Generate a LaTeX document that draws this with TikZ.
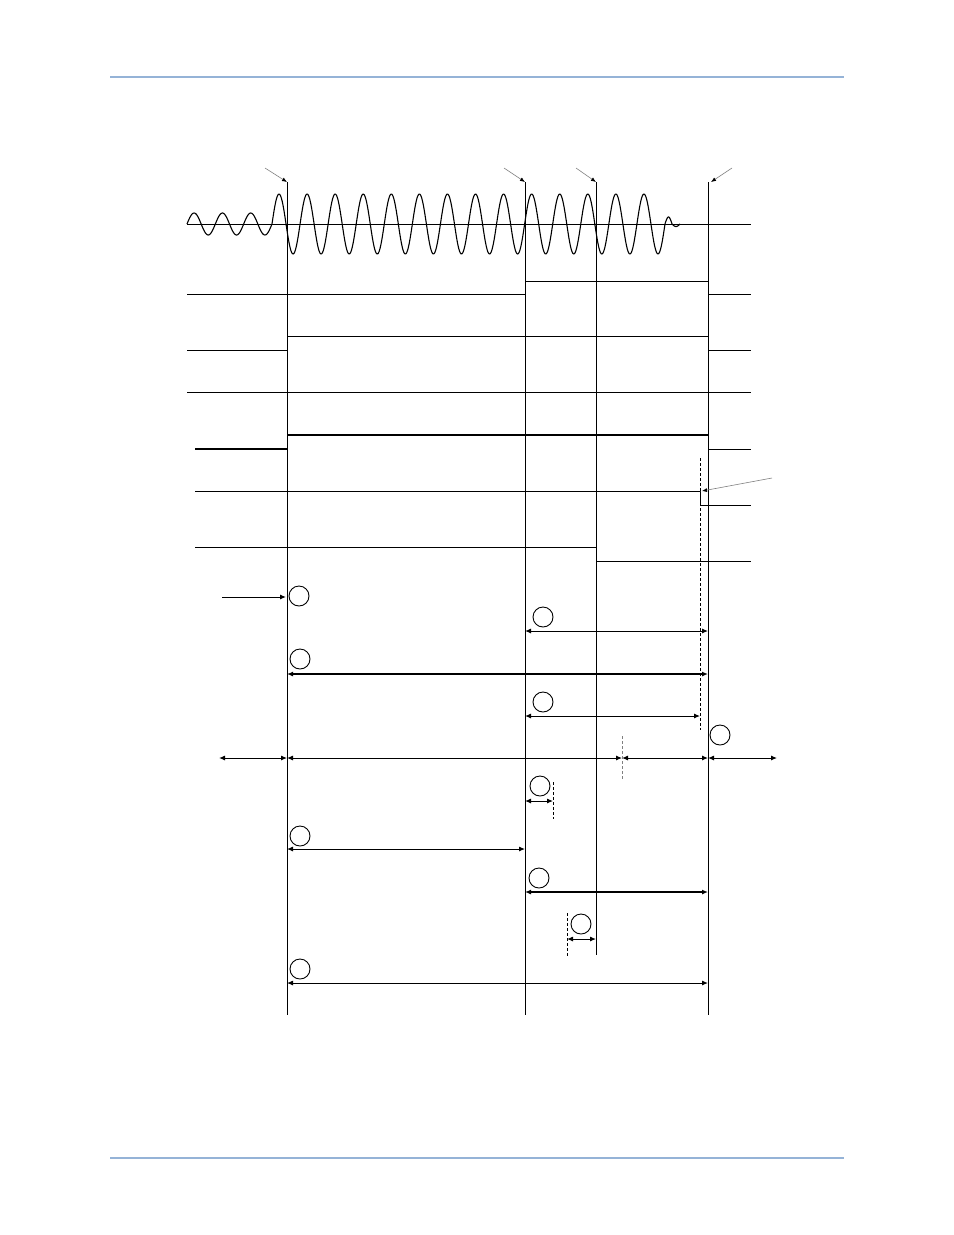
\documentclass[tikz,border=0pt]{standalone}
\usetikzlibrary{arrows.meta}
\definecolor{rulecol}{rgb}{0.584,0.702,0.843}
\tikzset{
  sig/.style={line width=1bp},
  heavy/.style={line width=2.2bp},
  span/.style={<->,line width=1bp},
  tick/.style={dashed,dash pattern=on 3bp off 2bp,line width=0.7bp},
  greytick/.style={tick,gray},
  pointer/.style={->,gray,line width=0.6bp,>={Latex[length=5bp,width=4bp,black]}},
  ring/.style={draw,circle,minimum size=20bp,inner sep=0pt,line width=0.9bp},
}
\begin{document}
\begin{tikzpicture}[x=1bp,y=-1bp,>={Latex[length=6bp,width=5bp]},line join=bevel]
\useasboundingbox (0,0) rectangle (954,1235);
%% page rules
\draw[rulecol,line width=2bp] (110,77) -- (844,77);
\draw[rulecol,line width=2bp] (110,1158) -- (844,1158);
%% time lines
\coordinate (t0) at (287,182);
\coordinate (t1) at (525,182);
\coordinate (t2) at (596,182);
\coordinate (t3) at (708,182);
\coordinate (t0b) at (287,1015);
\coordinate (t1b) at (525,1015);
\coordinate (t2b) at (596,955);
\coordinate (t3b) at (708,1015);
\draw[sig] (t0) -- (t0b);
\draw[sig] (t1) -- (t1b);
\draw[sig] (t2) -- (t2b);
\draw[sig] (t3) -- (t3b);
%% markers above the lines
\draw[pointer] (265,168) -- (t0);
\draw[pointer] (504,168) -- (t1);
\draw[pointer] (576,168) -- (t2);
\draw[pointer] (732,168) -- ([xshift=3bp]t3);
%% waveform
\draw[sig] (187,224) -- (751,224);
\draw[line width=1.1bp] plot[domain=187:272,samples=120,smooth] (\x,{224-11*sin(12.7059*(\x-187))})
  -- plot[domain=272:665,samples=500,smooth] (\x,{224-30*sin(12.8244*(\x-272))})
  -- plot[domain=665:672,samples=20,smooth] (\x,{224-7*sin(25.7143*(\x-665))})
  -- plot[domain=672:680,samples=20,smooth] (\x,{224+2.5*sin(22.5*(\x-672))});
%% levels
\draw[sig] (187,294) -- (t1 |- 0,294);
\draw[sig] (t1 |- 0,281) -- (t3 |- 0,281);
\draw[sig] (t3 |- 0,294) -- (751,294);
\draw[sig] (t0 |- 0,336) -- (t3 |- 0,336);
\draw[sig] (187,350) -- (t0 |- 0,350);
\draw[sig] (t3 |- 0,350) -- (751,350);
\draw[sig] (187,392) -- (751,392);
\draw[heavy] (t0 |- 0,435) -- (t3 |- 0,435);
\draw[heavy] (195,449) -- (t0 |- 0,449);
\draw[sig] (t3 |- 0,449) -- (751,449);
\coordinate (cut) at (700,491);
\draw[sig] (195,491) -- (cut) -- (700,505) -- (751,505);
\draw[sig] (195,547) -- (t2 |- 0,547);
\draw[sig] (t2 |- 0,561) -- (751,561);
\draw[tick] (700,458) -- (700,730);
\draw[pointer] (772,478) -- ([xshift=2bp]cut);
%% numbered marks
\node[ring] (m1) at (299,596) {};
\node[ring] (m2) at (543,617) {};
\node[ring] (m3) at (300,659) {};
\node[ring] (m4) at (543,702) {};
\node[ring] (m5) at (720,735) {};
\node[ring] (m6) at (540,786) {};
\node[ring] (m7) at (300,836) {};
\node[ring] (m8) at (539,878) {};
\node[ring] (m9) at (581,924) {};
\node[ring] (m10) at (300,969) {};
%% intervals
\coordinate (in) at (222,597);
\draw[->,line width=1bp] (in) -- ([xshift=-1bp]t0 |- in);
\draw[span] (t1 |- 0,631) -- (t3 |- 0,631);
\draw[span,heavy] (t0 |- 0,674) -- (t3 |- 0,674);
\draw[span] (t1 |- 0,716) -- (700,716);
\coordinate (la) at (219,758);
\coordinate (lm) at (622,758);
\coordinate (lb) at (777,758);
\draw[span] (la) -- (t0 |- la);
\draw[span] (t0 |- la) -- (lm);
\draw[span] (lm) -- (t3 |- la);
\draw[span] (t3 |- la) -- (lb);
\draw[greytick] (622,736) -- (622,779);
\draw[span] (t1 |- 0,801) -- (553,801);
\draw[tick] (553,782) -- (553,819);
\draw[span] (t0 |- 0,849) -- (t1 |- 0,849);
\draw[span,heavy] (t1 |- 0,892) -- (t3 |- 0,892);
\draw[span] (567,939) -- (t2 |- 0,939);
\draw[tick] (567,913) -- (567,956);
\draw[span] (t0 |- 0,983) -- (t3 |- 0,983);
\end{tikzpicture}
\end{document}
